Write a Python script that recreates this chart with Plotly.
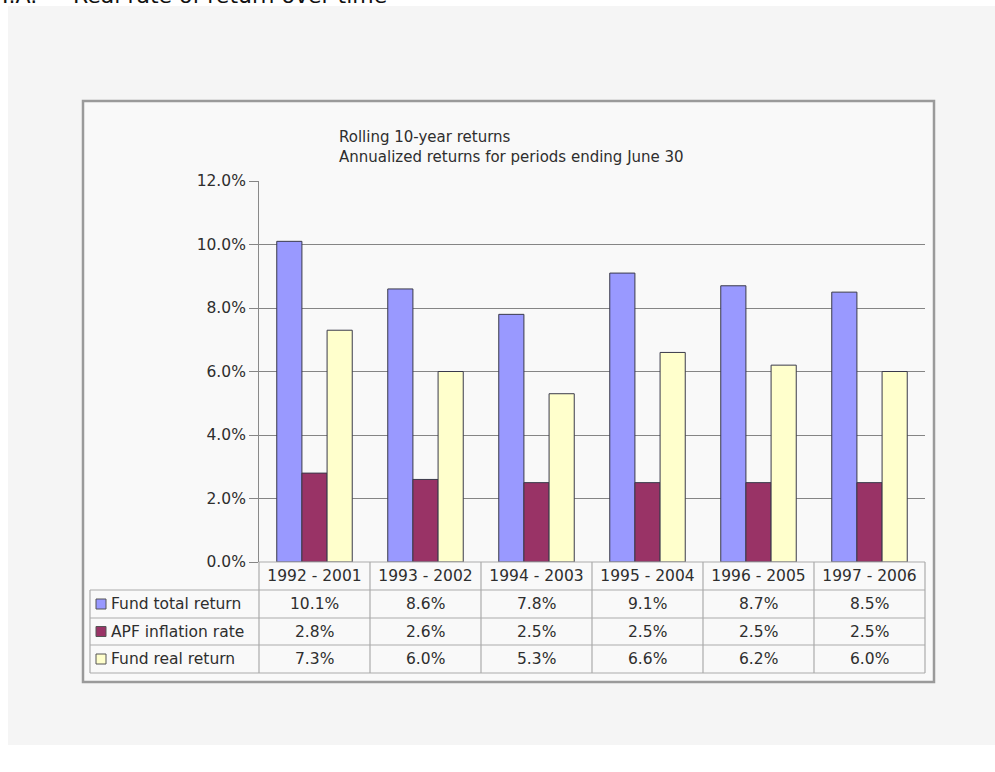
import plotly.graph_objects as go

# ---- data ----
periods = ["1992 - 2001", "1993 - 2002", "1994 - 2003", "1995 - 2004", "1996 - 2005", "1997 - 2006"]
fund_total = [10.1, 8.6, 7.8, 9.1, 8.7, 8.5]
apf_inflation = [2.8, 2.6, 2.5, 2.5, 2.5, 2.5]
fund_real = [7.3, 6.0, 5.3, 6.6, 6.2, 6.0]
series_names = ["Fund total return", "APF inflation rate", "Fund real return"]
series_values = [fund_total, apf_inflation, fund_real]
series_colors = ["#9999ff", "#993366", "#ffffcc"]
y_ticks = [0, 2, 4, 6, 8, 10, 12]

W, H = 995, 772
def X(px):
    return px / W
def Y(py):
    return 1 - py / H

FONT = "DejaVu Sans, Liberation Sans, Arial, sans-serif"
TXT = "#2e2e2e"
FS = 15.5

fig = go.Figure()
for name, vals, col in zip(series_names, series_values, series_colors):
    fig.add_trace(go.Bar(x=periods, y=vals, name=name,
                         marker=dict(color=col, line=dict(color="#3a3a4a", width=1))))

plot_l, plot_r, plot_t, plot_b = 259, 925, 181, 562
row_lines = [562, 590, 618, 645, 673]
tbl_left = 90

shapes = []
# outer light panel
shapes.append(dict(type="rect", xref="paper", yref="paper", x0=X(8), x1=X(996), y0=Y(745), y1=Y(6),
                   fillcolor="#f5f5f5", line=dict(width=0), layer="below"))
# chart frame
shapes.append(dict(type="rect", xref="paper", yref="paper", x0=X(83), x1=X(934), y0=Y(682), y1=Y(101),
                   fillcolor="#f9f9f9", line=dict(color="#9a9a9a", width=2.5), layer="below"))
# table horizontal lines
LC = "#ababab"
for i, ry in enumerate(row_lines):
    x0 = plot_l if i == 0 else tbl_left
    shapes.append(dict(type="line", xref="paper", yref="paper", x0=X(x0), x1=X(plot_r), y0=Y(ry), y1=Y(ry),
                       line=dict(color=LC, width=1.2)))
# table vertical lines
ncat = len(periods)
colw = (plot_r - plot_l) / ncat
for k in range(ncat + 1):
    xx = plot_l + k * colw
    shapes.append(dict(type="line", xref="paper", yref="paper", x0=X(xx), x1=X(xx), y0=Y(row_lines[-1]), y1=Y(row_lines[0]),
                       line=dict(color=LC, width=1.2)))
shapes.append(dict(type="line", xref="paper", yref="paper", x0=X(tbl_left), x1=X(tbl_left), y0=Y(row_lines[-1]), y1=Y(row_lines[1]),
                   line=dict(color=LC, width=1.2)))

annotations = []
# legend keys + row labels + values
for r, (name, vals, col) in enumerate(zip(series_names, series_values, series_colors)):
    cy = (row_lines[r + 1] + row_lines[r + 2]) / 2
    shapes.append(dict(type="rect", xref="paper", yref="paper", x0=X(96), x1=X(106), y0=Y(cy + 5), y1=Y(cy - 5),
                       fillcolor=col, line=dict(color="#555555", width=1)))
    annotations.append(dict(text=name, xref="paper", yref="paper", x=X(109), y=Y(cy), xanchor="left", yanchor="middle",
                            showarrow=False, font=dict(family=FONT, size=FS, color=TXT)))
    for p, v in zip(periods, vals):
        annotations.append(dict(text=f"{v:.1f}%", xref="x", yref="paper", x=p, y=Y(cy), xanchor="center", yanchor="middle",
                                showarrow=False, font=dict(family=FONT, size=FS, color=TXT)))

# chart titles
annotations.append(dict(text="Rolling 10-year returns", xref="paper", yref="paper", x=X(337), y=Y(137),
                        xanchor="left", yanchor="middle", showarrow=False, font=dict(family=FONT, size=FS - 0.5, color=TXT)))
annotations.append(dict(text="Annualized returns for periods ending June 30", xref="paper", yref="paper", x=X(337), y=Y(157),
                        xanchor="left", yanchor="middle", showarrow=False, font=dict(family=FONT, size=FS - 0.5, color=TXT)))
# cut-off page heading
annotations.append(dict(text="I.A.", xref="paper", yref="paper", x=X(0), y=Y(10),
                        xanchor="left", yanchor="bottom", showarrow=False, font=dict(family=FONT, size=22, color="#111111")))
annotations.append(dict(text="Real rate of return over time", xref="paper", yref="paper", x=X(71), y=Y(10),
                        xanchor="left", yanchor="bottom", showarrow=False, font=dict(family=FONT, size=22, color="#111111")))

fig.update_layout(
    width=W, height=H,
    margin=dict(l=0, r=0, t=0, b=0, pad=0, autoexpand=False),
    paper_bgcolor="white",
    plot_bgcolor="#c0c0c0",
    barmode="group", bargap=0.32, bargroupgap=0,
    showlegend=False,
    shapes=shapes,
    annotations=annotations,
    font=dict(family=FONT, color=TXT, size=FS),
    xaxis=dict(domain=[X(plot_l), X(plot_r)], showgrid=False, showline=False, ticks="", automargin=False,
               tickfont=dict(family=FONT, size=FS, color=TXT), ticklabelstandoff=2),
    yaxis=dict(domain=[Y(plot_b), Y(plot_t)], range=[0, 12], tickvals=y_ticks, automargin=False,
               ticktext=[f"{t:.1f}%" for t in y_ticks],
               showgrid=True, gridcolor="#858585", gridwidth=1,
               ticks="outside", ticklen=9, tickcolor="#858585",
               showline=True, linecolor="#8a8a8a", linewidth=1,
               tickfont=dict(family=FONT, size=FS, color=TXT), zeroline=False),
)

fig.write_html("out.html")
